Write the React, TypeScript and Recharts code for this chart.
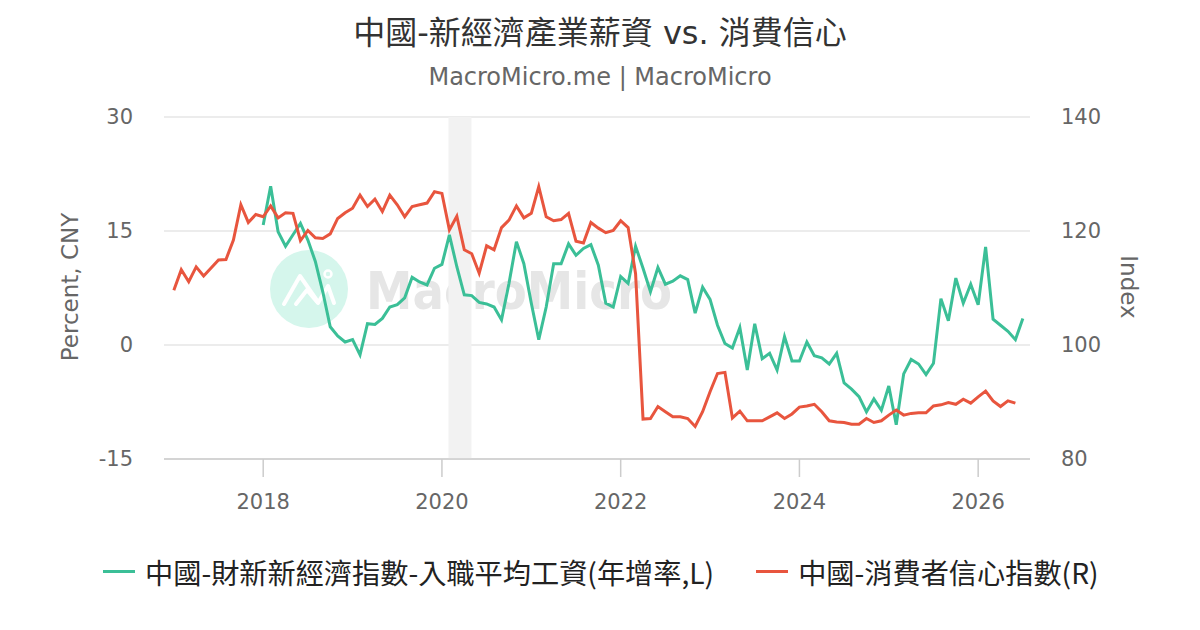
import React from "react"
import { LineChart, Line, XAxis, YAxis, CartesianGrid, ReferenceArea } from "recharts"

// monthly observations, first month of each series
const WAGE_START = "2018-01"
const CCI_START = "2017-01"

// 中國-財新新經濟指數-入職平均工資(年增率,L), one row per year
const wageYoY = [
  15.8, 20.9, 14.9, 13.0, 14.5, 16.0, 13.8, 11.0, 7.0, 2.4, 1.2, 0.4,
  0.7, -1.3, 2.8, 2.7, 3.5, 5.0, 5.3, 6.2, 8.9, 8.3, 7.9, 10.1,
  10.6, 14.5, 10.3, 6.6, 6.5, 5.6, 5.4, 5.0, 3.3, 8.1, 13.6, 10.7,
  5.5, 0.7, 5.0, 10.7, 10.7, 13.3, 11.8, 12.7, 13.2, 10.5, 5.5, 5.0,
  9.0, 8.1, 13.0, 10.1, 7.0, 10.2, 8.0, 8.4, 9.1, 8.6, 4.2, 7.6,
  6.0, 2.6, 0.2, -0.4, 2.3, -3.3, 2.8, -1.8, -1.1, -3.3, 1.1, -2.1,
  -2.1, 0.4, -1.4, -1.7, -2.5, -1.1, -5.0, -5.8, -6.8, -8.8, -7.1, -8.6,
  -5.4, -10.5, -3.8, -1.9, -2.5, -3.9, -2.4, 6.1, 3.2, 8.8, 5.5, 8.0,
  5.3, 12.9, 3.4, 2.6, 1.8, 0.7, 3.5,
]

// 中國-消費者信心指數(R), one row per year
const consumerConfidence = [
  109.6, 113.2, 111.1, 113.7, 112.1, 113.5, 114.9, 115.0, 118.4, 124.6, 121.5, 122.9,
  122.5, 124.4, 122.3, 123.2, 123.1, 118.3, 120.1, 118.8, 118.7, 119.5, 122.2, 123.2,
  124.0, 126.3, 124.3, 125.6, 123.4, 126.3, 124.6, 122.5, 124.3, 124.6, 124.9, 126.9,
  126.6, 120.2, 122.6, 116.7, 116.0, 112.6, 117.4, 116.7, 120.6, 121.9, 124.4, 122.3,
  123.1, 127.8, 122.5, 121.8, 122.0, 123.1, 118.2, 117.9, 121.5, 120.5, 119.7, 120.1,
  121.8, 120.6, 112.5, 87.0, 87.1, 89.2, 88.3, 87.4, 87.4, 87.1, 85.7, 88.3,
  91.8, 95.0, 95.2, 87.2, 88.4, 86.7, 86.7, 86.7, 87.4, 88.1, 87.1, 87.9,
  89.1, 89.3, 89.6, 88.3, 86.7, 86.5, 86.4, 86.1, 86.1, 87.1, 86.4, 86.7,
  87.7, 88.6, 87.7, 88.0, 88.1, 88.1, 89.3, 89.5, 89.9, 89.6, 90.5, 89.8,
  90.9, 91.9, 90.2, 89.2, 90.2, 89.8,
]

const xTicks = [2018, 2020, 2022, 2024, 2026]
const leftTicks = [-15, 0, 15, 30]
const rightTicks = [80, 100, 120, 140]
// shaded period (2020 Feb - Apr)
const shadeFrom = "2020-02"
const shadeTo = "2020-04"

const GREEN = "#3bbf97"
const RED = "#e8553e"
const FONT = "'DejaVu Sans', 'Noto Sans CJK TC', sans-serif"

const toYear = (ym: string) => {
  const [y, m] = ym.split("-").map(Number)
  return y + (m - 1) / 12
}

const monthIndex = (ym: string) => Math.round((toYear(ym) - 2017) * 12)

const wageOffset = monthIndex(WAGE_START)
const cciOffset = monthIndex(CCI_START)
const nMonths = Math.max(wageOffset + wageYoY.length, cciOffset + consumerConfidence.length)

const chartData = Array.from({ length: nMonths }, (_, i) => ({
  t: 2017 + i / 12,
  wage: i >= wageOffset && i - wageOffset < wageYoY.length ? wageYoY[i - wageOffset] : null,
  cci: i >= cciOffset && i - cciOffset < consumerConfidence.length ? consumerConfidence[i - cciOffset] : null,
}))

const tickStyle = { fill: "#666", fontSize: 21, fontFamily: FONT }

export default function App() {
  return (
    <div
      style={{
        position: "absolute",
        left: 0,
        top: 0,
        width: 1200,
        height: 630,
        background: "#fff",
        fontFamily: FONT,
        overflow: "hidden",
      }}
    >
      {/* watermark */}
      <svg width={1200} height={630} style={{ position: "absolute", left: 0, top: 0 }}>
        <circle cx={309} cy={289} r={39} fill="#d5f6ec" />
        <polyline points="284,304 300,276 318,302" fill="none" stroke="#fff" strokeWidth={4} strokeLinecap="round" strokeLinejoin="round" />
        <polyline points="296,304 307,290 318,303 328,286 334,303" fill="none" stroke="#fff" strokeWidth={4} strokeLinecap="round" strokeLinejoin="round" />
        <circle cx={328} cy={274} r={3.5} fill="none" stroke="#fff" strokeWidth={2.5} />
        <text x={366} y={309} fontSize={52} fontWeight="bold" fill="#e6e6e6" textLength={306} lengthAdjust="spacingAndGlyphs" fontFamily={FONT}>
          MacroMicro
        </text>
      </svg>

      <div style={{ position: "absolute", left: 0, top: 15, width: 1200, textAlign: "center", fontSize: 32, lineHeight: "36px", color: "#333" }}>
        中國-新經濟產業薪資 vs. 消費信心
      </div>
      <div style={{ position: "absolute", left: 0, top: 63, width: 1200, textAlign: "center", fontSize: 24, lineHeight: "29px", color: "#666" }}>
        MacroMicro.me | MacroMicro
      </div>

      <div style={{ position: "absolute", left: 0, top: 0 }}>
        <LineChart width={1200} height={630} data={chartData} margin={{ top: 117, right: 0, bottom: 0, left: 0 }}>
          <CartesianGrid yAxisId="left" vertical={false} stroke="#e6e6e6" strokeWidth={1.5} />
          <ReferenceArea yAxisId="left" x1={toYear(shadeFrom) - 0.01} x2={toYear(shadeTo) + 0.08} fill="#f2f2f2" fillOpacity={1} stroke="none" />
          <XAxis
            dataKey="t"
            type="number"
            domain={[2016.89, 2026.58]}
            ticks={xTicks}
            height={171}
            tick={tickStyle}
            tickSize={18}
            tickMargin={17}
            tickLine={{ stroke: "#ccc", strokeWidth: 1.5 }}
            axisLine={{ stroke: "#ccc", strokeWidth: 1.5 }}
          />
          <YAxis
            yAxisId="left"
            domain={[-15, 30]}
            ticks={leftTicks}
            width={164}
            tick={tickStyle}
            tickSize={0}
            tickMargin={31}
            axisLine={false}
            tickLine={false}
          />
          <YAxis
            yAxisId="right"
            orientation="right"
            domain={[80, 140]}
            ticks={rightTicks}
            width={170}
            tick={{ ...tickStyle, textAnchor: "start" }}
            tickSize={0}
            tickMargin={31}
            axisLine={false}
            tickLine={false}
          />
          <Line
            yAxisId="left"
            dataKey="wage"
            type="linear"
            stroke={GREEN}
            strokeWidth={3}
            dot={false}
            isAnimationActive={false}
          />
          <Line
            yAxisId="right"
            dataKey="cci"
            type="linear"
            stroke={RED}
            strokeWidth={3}
            dot={false}
            isAnimationActive={false}
          />
        </LineChart>
      </div>

      {/* axis titles */}
      <div
        style={{
          position: "absolute",
          left: 70,
          top: 287,
          transform: "translate(-50%, -50%) rotate(-90deg)",
          fontSize: 23,
          color: "#666",
          whiteSpace: "nowrap",
        }}
      >
        Percent, CNY
      </div>
      <div
        style={{
          position: "absolute",
          left: 1129,
          top: 287,
          transform: "translate(-50%, -50%) rotate(90deg)",
          fontSize: 23,
          color: "#666",
          whiteSpace: "nowrap",
        }}
      >
        Index
      </div>

      {/* legend */}
      <div
        style={{
          position: "absolute",
          left: 103,
          top: 551,
          height: 40,
          display: "flex",
          alignItems: "center",
          fontFamily: "'Noto Sans CJK TC', sans-serif",
          fontSize: 28.2,
          color: "#222",
          whiteSpace: "nowrap",
        }}
      >
        <span style={{ width: 32, height: 3, background: GREEN, marginRight: 10 }} />
        <span>中國-財新新經濟指數-入職平均工資(年增率,L)</span>
        <span style={{ width: 32, height: 3, background: RED, marginLeft: 42, marginRight: 10 }} />
        <span>中國-消費者信心指數(R)</span>
      </div>
    </div>
  )
}
